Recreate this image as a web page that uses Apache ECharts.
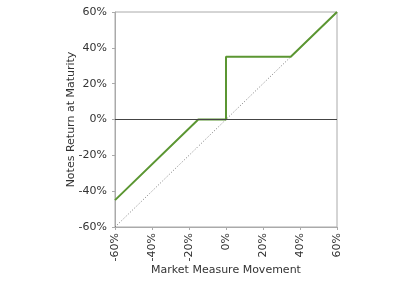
<!DOCTYPE html>
<html><head><meta charset="utf-8">
<script src="https://cdn.jsdelivr.net/npm/echarts@6/dist/echarts.min.js"></script>
<style>html,body{margin:0;padding:0;background:#fff}#c{width:398px;height:281px}</style>
</head><body><div id="c"></div>
<script>
const notesX = [-60, -15, 0, 0, 35, 60];
const notesY = [-45, 0, 0, 35, 35, 60];
const refX = [-60, 60];
const refY = [-60, 60];
const axisMin = -60, axisMax = 60, axisStep = 20;

const chart = echarts.init(document.getElementById('c'), null, {renderer: 'canvas'});
const font = 'DejaVu Sans';
chart.setOption({
  animation: false,
  grid: {left: 115, right: 61, top: 12, bottom: 53, show: true, borderColor: '#aaa', borderWidth: 1},
  xAxis: {
    type: 'value', min: axisMin, max: axisMax, interval: axisStep,
    name: 'Market Measure Movement', nameLocation: 'middle', nameGap: 38, nameMoveOverlap: false,
    nameTextStyle: {fontFamily: font, fontSize: 11, color: '#333'},
    axisLine: {onZero: false, lineStyle: {color: '#aaa'}},
    axisTick: {show: true, length: 3, lineStyle: {color: '#aaa'}},
    splitLine: {show: false},
    axisLabel: {rotate: 90, formatter: v => v + '%', fontFamily: font, fontSize: 11, color: '#333', margin: 6}
  },
  yAxis: {
    type: 'value', min: axisMin, max: axisMax, interval: axisStep,
    name: 'Notes Return at Maturity', nameLocation: 'middle', nameGap: 38, nameMoveOverlap: false,
    nameTextStyle: {fontFamily: font, fontSize: 11, color: '#333'},
    axisLine: {show: true, onZero: false, lineStyle: {color: '#aaa'}},
    axisTick: {show: true, length: 3, lineStyle: {color: '#aaa'}},
    splitLine: {show: false},
    axisLabel: {formatter: v => v + '%', fontFamily: font, fontSize: 11, color: '#333', margin: 8}
  },
  series: [
    {
      type: 'line', data: refX.map((x, i) => [x, refY[i]]), symbol: 'none',
      lineStyle: {color: '#555', width: 0.8, type: [1, 2]}, z: 1,
      markLine: {silent: true, symbol: 'none', label: {show: false},
        lineStyle: {color: '#444', width: 1, type: 'solid'}, data: [{yAxis: 0}]}
    },
    {
      type: 'line', data: notesX.map((x, i) => [x, notesY[i]]), symbol: 'none',
      lineStyle: {color: '#5b9632', width: 2}, z: 3
    }
  ]
});
</script></body></html>
